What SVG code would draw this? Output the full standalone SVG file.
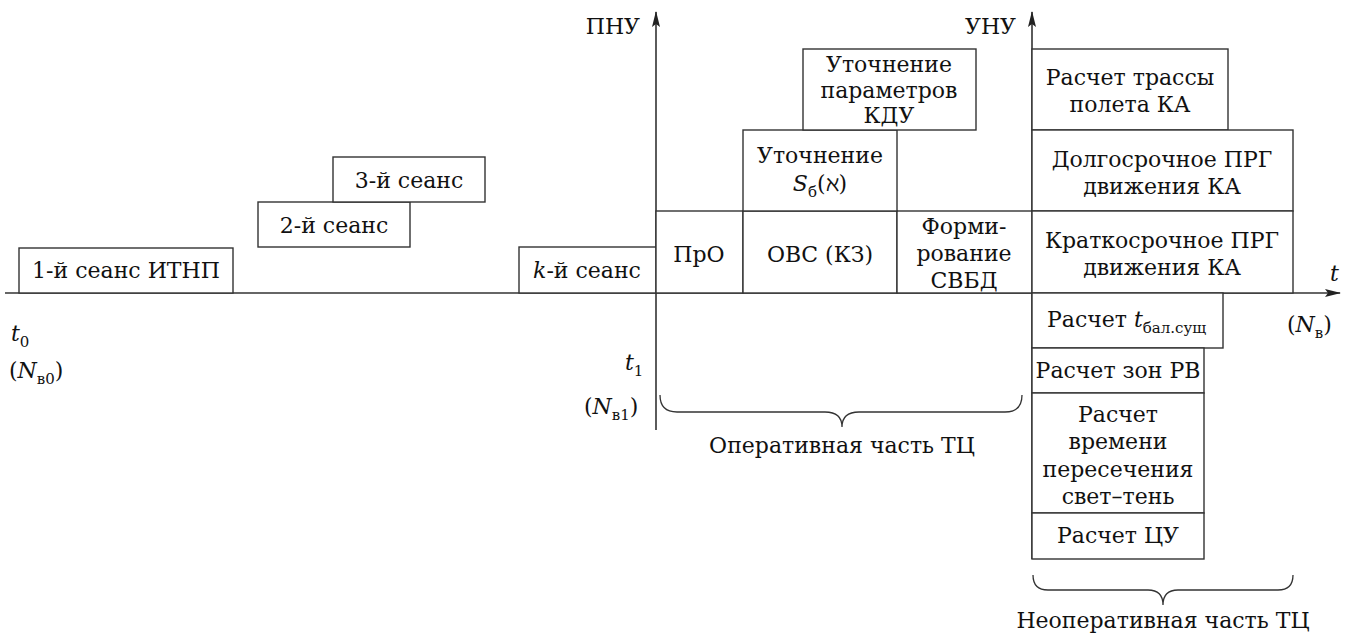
<svg xmlns="http://www.w3.org/2000/svg" width="1347" height="635" viewBox="0 0 1347 635">
<style>
.b{fill:#fff;stroke:#333;stroke-width:1.4}
.ax{fill:none;stroke:#333;stroke-width:1.6}
.br{fill:none;stroke:#333;stroke-width:1.3}
text{font-family:"DejaVu Serif","Liberation Serif",serif;font-size:22px;fill:#111}
.c{text-anchor:middle}
.r{text-anchor:end}
.i{font-style:italic}
.s{font-size:15px}
</style>
<defs>
<marker id="ah" viewBox="0 0 16 10" refX="15" refY="5" markerWidth="16" markerHeight="10" markerUnits="userSpaceOnUse" orient="auto">
<path d="M0,1 L16,5 L0,9 L3,5 Z" fill="#222"/>
</marker>
</defs>
<g id="connectors">
<line class="ax" x1="5" y1="293" x2="1340" y2="293" marker-end="url(#ah)"/>
<line class="ax" x1="656" y1="430" x2="656" y2="12" marker-end="url(#ah)"/>
<line class="ax" x1="1032" y1="559" x2="1032" y2="12" marker-end="url(#ah)"/>
<path class="br" d="M660,395 Q660,412 677,412 L825,412 Q842,412 842,427 Q842,412 859,412 L1005,412 Q1022,412 1022,395"/>
<path class="br" d="M1033,575 Q1033,590 1048,590 L1148,590 Q1163,590 1163,605 Q1163,590 1178,590 L1278,590 Q1293,590 1293,575"/>
</g>
<g id="labels">
<text x="640" y="34" class="r">ПНУ</text>
<text x="1016" y="34" class="r">УНУ</text>
<text x="1330" y="281" class="i">t</text>
<text x="1287" y="332">(<tspan class="i">N</tspan><tspan class="s" dy="6">в</tspan><tspan dy="-6">)</tspan></text>
<text x="11" y="341" class="i">t<tspan class="s" font-style="normal" dy="6">0</tspan></text>
<text x="9" y="378">(<tspan class="i">N</tspan><tspan class="s" dy="6">в0</tspan><tspan dy="-6">)</tspan></text>
<text x="625" y="370" class="i">t<tspan class="s" font-style="normal" dy="6">1</tspan></text>
<text x="584" y="414">(<tspan class="i">N</tspan><tspan class="s" dy="6">в1</tspan><tspan dy="-6">)</tspan></text>
<text x="842" y="453" class="c">Оперативная часть ТЦ</text>
<text x="1163" y="628" class="c">Неоперативная часть ТЦ</text>
</g>
<g id="n1"><rect class="b" x="19" y="248" width="214" height="45"/><text x="126" y="278" class="c">1-й сеанс ИТНП</text></g>
<g id="n2"><rect class="b" x="258" y="202" width="152" height="45"/><text x="334" y="233" class="c">2-й сеанс</text></g>
<g id="n3"><rect class="b" x="333" y="157" width="152" height="45"/><text x="409" y="188" class="c">3-й сеанс</text></g>
<g id="nk"><rect class="b" x="519" y="247" width="137" height="46"/><text x="587" y="278" class="c"><tspan class="i">k</tspan>-й сеанс</text></g>
<g id="npro"><rect class="b" x="656" y="211" width="87" height="82"/><text x="699" y="262" class="c">ПрО</text></g>
<g id="novs"><rect class="b" x="743" y="211" width="154" height="82"/><text x="820" y="262" class="c">ОВС (КЗ)</text></g>
<g id="nform"><rect class="b" x="897" y="211" width="135" height="82"/><text x="964" y="234" class="c">Форми-</text><text x="964" y="261" class="c">рование</text><text x="964" y="288" class="c">СВБД</text></g>
<g id="nsb"><rect class="b" x="743" y="130" width="154" height="81"/><text x="820" y="163" class="c">Уточнение</text><text x="820" y="191" class="c"><tspan class="i">S</tspan><tspan class="s" dy="6">б</tspan><tspan dy="-6">(ℵ)</tspan></text></g>
<g id="nkdu"><rect class="b" x="803" y="49" width="173" height="81"/><text x="889" y="72" class="c">Уточнение</text><text x="889" y="98" class="c">параметров</text><text x="889" y="123" class="c">КДУ</text></g>
<g id="ntr"><rect class="b" x="1032" y="49" width="196" height="81"/><text x="1130" y="85" class="c">Расчет трассы</text><text x="1130" y="112" class="c">полета КА</text></g>
<g id="ndol"><rect class="b" x="1032" y="130" width="261" height="81"/><text x="1162" y="167" class="c">Долгосрочное ПРГ</text><text x="1162" y="194" class="c">движения КА</text></g>
<g id="nkr"><rect class="b" x="1032" y="211" width="261" height="82"/><text x="1162" y="248" class="c">Краткосрочное ПРГ</text><text x="1162" y="275" class="c">движения КА</text></g>
<g id="nbal"><rect class="b" x="1032" y="293" width="191" height="55"/><text x="1047" y="327">Расчет <tspan class="i">t</tspan><tspan class="s" dy="6">бал.сущ</tspan></text></g>
<g id="nzon"><rect class="b" x="1032" y="348" width="172" height="45"/><text x="1118" y="378" class="c">Расчет зон РВ</text></g>
<g id="nvr"><rect class="b" x="1032" y="393" width="172" height="120"/><text x="1118" y="422" class="c">Расчет</text><text x="1118" y="449" class="c">времени</text><text x="1118" y="477" class="c">пересечения</text><text x="1118" y="504" class="c">свет–тень</text></g>
<g id="ncu"><rect class="b" x="1032" y="513" width="172" height="46"/><text x="1118" y="543" class="c">Расчет ЦУ</text></g>
</svg>
